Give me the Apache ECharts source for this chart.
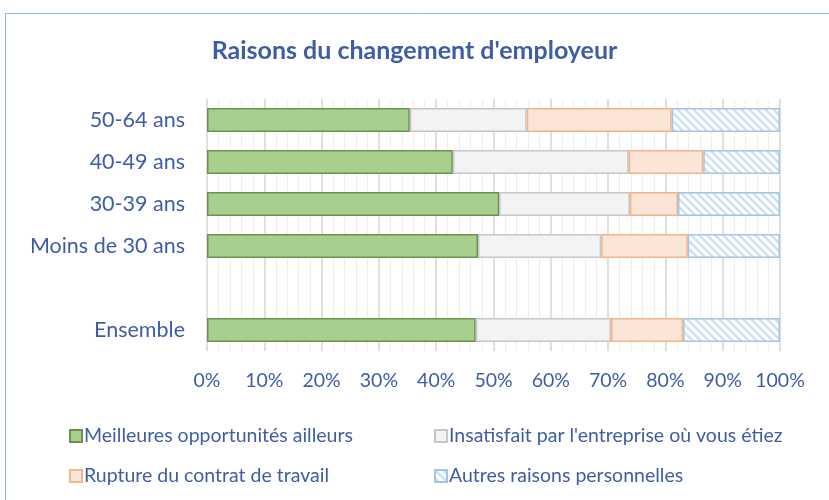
<!DOCTYPE html>
<html>
<head>
<meta charset="UTF-8">
<title>Raisons du changement d'employeur</title>
<script type="text/javascript" src="https://cdn.jsdelivr.net/npm/echarts@6/dist/echarts.min.js"></script>
<style type="text/css">
	body{ margin:0; background:#fff; }
	#main{ width:829px; height:500px; }
</style>
</head>
<body>
<div id="main"></div>
<script type="text/javascript">
	// categories, bottom to top (one empty slot between Ensemble and the age groups)
	var categories = ['Ensemble', '', 'Moins de 30 ans', '30-39 ans', '40-49 ans', '50-64 ans'];
	var meilleures = [46.9, null, 47.3, 51.0, 42.9, 35.4];
	var insatisfait = [23.6, null, 21.5, 22.8, 30.7, 20.4];
	var rupture = [12.6, null, 15.1, 8.4, 13.0, 25.3];
	var autres = [16.9, null, 16.1, 17.8, 13.4, 18.9];
	var seriesNames = ['Meilleures opportunités ailleurs', "Insatisfait par l'entreprise où vous étiez",
		'Rupture du contrat de travail', 'Autres raisons personnelles'];

	// hatch pattern for the last series
	var hatch = document.createElement('canvas');
	hatch.width = 8;
	hatch.height = 8;
	var ctx = hatch.getContext('2d');
	ctx.fillStyle = '#ffffff';
	ctx.fillRect(0, 0, 8, 8);
	ctx.strokeStyle = '#cfe1f4';
	ctx.lineWidth = 2.5;
	ctx.beginPath();
	ctx.moveTo(-2, -2); ctx.lineTo(10, 10);
	ctx.moveTo(-2, 6); ctx.lineTo(2, 10);
	ctx.moveTo(6, -2); ctx.lineTo(10, 2);
	ctx.stroke();

	var textColor = '#3F5DA6';
	var font = 'Lato';

	function makeLegend(name, left, top){
		return {
			data: [name],
			left: left,
			top: top,
			itemWidth: 12,
			itemHeight: 12,
			itemGap: 4,
			icon: 'rect',
			textStyle: { color: textColor, fontSize: 19.5, fontFamily: font, padding: [0, 0, 0, -3] }
		};
	}

	var myChart = echarts.init(document.getElementById('main'));
	var option = {
		animation: false,
		title: {
			text: "Raisons du changement d'employeur",
			left: 'center',
			top: 33,
			textStyle: { color: textColor, fontSize: 25, fontWeight: 'bold', fontFamily: font }
		},
		graphic: [{
			type: 'rect',
			shape: { x: 5.5, y: 13.5, width: 900, height: 600 },
			style: { fill: 'none', stroke: '#8FB3DE', lineWidth: 1 },
			silent: true
		}],
		legend: [
			makeLegend(seriesNames[0], 64, 421),
			makeLegend(seriesNames[1], 429, 421),
			makeLegend(seriesNames[2], 64, 461),
			makeLegend(seriesNames[3], 429, 461)
		],
		grid: { left: 207, right: 49, top: 99, bottom: 149 },
		xAxis: {
			type: 'value',
			min: 0,
			max: 100,
			interval: 10,
			axisLine: { show: false },
			axisTick: { show: false },
			axisLabel: { color: textColor, fontSize: 19.5, fontFamily: font, margin: 20,
				formatter: function(v){ return v + '%'; } },
			splitLine: { show: true, lineStyle: { color: '#D4D4D4', width: 1.5 } },
			minorTick: { show: false, splitNumber: 5 },
			minorSplitLine: { show: true, lineStyle: { color: '#EDEDED', width: 1 } }
		},
		yAxis: {
			type: 'category',
			data: categories,
			axisLine: { show: false },
			axisTick: { show: false },
			axisLabel: { color: textColor, fontSize: 21.5, fontFamily: font, margin: 22 }
		},
		series: [{
			name: seriesNames[0], type: 'bar', stack: 'total', data: meilleures, barWidth: 24,
			itemStyle: { color: '#A9CF8E', borderColor: '#6E9150', borderWidth: 1.5 }
		}, {
			name: seriesNames[1], type: 'bar', stack: 'total', data: insatisfait,
			itemStyle: { color: '#F2F3F3', borderColor: '#C6C6C6', borderWidth: 1.5 }
		}, {
			name: seriesNames[2], type: 'bar', stack: 'total', data: rupture,
			itemStyle: { color: '#FBE5D7', borderColor: '#F2B48A', borderWidth: 1.5 }
		}, {
			name: seriesNames[3], type: 'bar', stack: 'total', data: autres,
			itemStyle: { color: { image: hatch, repeat: 'repeat' }, borderColor: '#A3C4E6', borderWidth: 1.5 }
		}]
	};
	myChart.setOption(option);
</script>
</body>
</html>
